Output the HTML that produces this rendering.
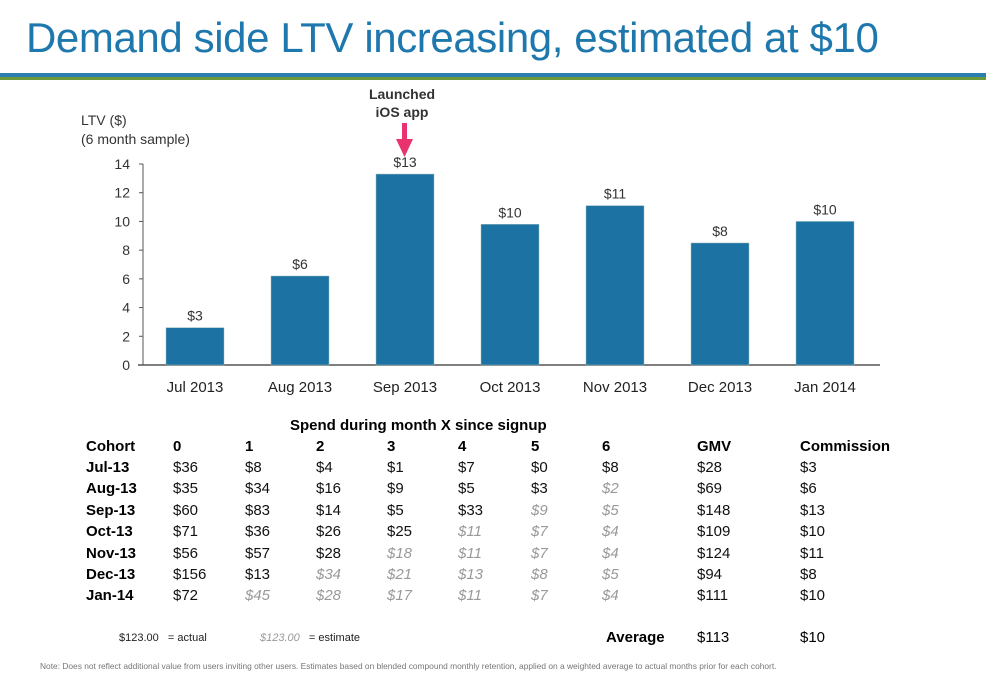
<!DOCTYPE html>
<html><head><meta charset="utf-8">
<style>
body{margin:0;width:986px;height:679px;background:#fff;font-family:"Liberation Sans",sans-serif;position:relative;overflow:hidden}
.t{position:absolute;white-space:nowrap}
</style></head><body>
<div class="t" style="left:26px;top:14px;font-size:42px;color:#1e78ad;letter-spacing:-0.4px">Demand side LTV increasing, estimated at $10</div>
<div style="position:absolute;left:0;top:73px;width:986px;height:4px;background:#2a7fb0"></div>
<div style="position:absolute;left:0;top:77px;width:986px;height:3px;background:#6a9a3a"></div>
<svg id="chart" width="986" height="410" style="position:absolute;left:0;top:0">
<text x="81" y="125" font-size="14" fill="#333">LTV ($)</text>
<text x="81" y="144" font-size="14" fill="#333">(6 month sample)</text>
<text x="402" y="99" font-size="14" font-weight="bold" fill="#333" text-anchor="middle">Launched</text>
<text x="402" y="117" font-size="14" font-weight="bold" fill="#333" text-anchor="middle">iOS app</text>
<g><rect x="402" y="123" width="5" height="17" fill="#e8336f"/><polygon points="396,139 413,139 404.5,157" fill="#e8336f"/></g>
</svg>
<script>
const categories=["Jul 2013","Aug 2013","Sep 2013","Oct 2013","Nov 2013","Dec 2013","Jan 2014"];
const ltvValues=[2.6,6.2,13.3,9.8,11.1,8.5,10.0];
const barLabels=["$3","$6","$13","$10","$11","$8","$10"];
const yTicks=[0,2,4,6,8,10,12,14];
const svg=document.getElementById('chart');const NS='http://www.w3.org/2000/svg';
const y=v=>365-v*201/14, x=i=>195+i*105;
function mk(t,a){const e=document.createElementNS(NS,t);for(const k in a)e.setAttribute(k,a[k]);svg.appendChild(e);return e;}
let ax=mk('line',{x1:143,y1:y(14),x2:143,y2:365,stroke:'#555','stroke-width':1});


let bx=mk('line',{x1:138,y1:365,x2:880,y2:365,stroke:'#555','stroke-width':1.5});


yTicks.forEach(v=>{mk('line',{x1:139,x2:143,y1:y(v),y2:y(v),stroke:'#555'});
const t=mk('text',{x:130,y:y(v)+5,'font-size':14,fill:'#333','text-anchor':'end'});t.textContent=v;

});
categories.forEach((c,i)=>{const v=ltvValues[i];
const r=mk('rect',{x:x(i)-29,y:y(v),width:58,height:365-y(v),fill:'#1c73a3',stroke:'#9bb',"stroke-width":0.5});


const l=mk('text',{x:x(i),y:y(v)-7,'font-size':14,fill:'#333','text-anchor':'middle'});l.textContent=barLabels[i];


const xl=mk('text',{x:x(i),y:392,'font-size':15,fill:'#222','text-anchor':'middle'});xl.textContent=c;

});
</script>
<div class="t" style="left:290px;top:417px;font-size:15px;font-weight:bold;color:#000">Spend during month X since signup</div>
<div id="tbl"></div>
<script>
const cols=[86,173,245,316,387,458,531,602,697,800];
const header=["Cohort","0","1","2","3","4","5","6","GMV","Commission"];
const rows=[
["Jul-13","$36","$8","$4","$1","$7","$0","$8","$28","$3"],
["Aug-13","$35","$34","$16","$9","$5","$3","*$2","$69","$6"],
["Sep-13","$60","$83","$14","$5","$33","*$9","*$5","$148","$13"],
["Oct-13","$71","$36","$26","$25","*$11","*$7","*$4","$109","$10"],
["Nov-13","$56","$57","$28","*$18","*$11","*$7","*$4","$124","$11"],
["Dec-13","$156","$13","*$34","*$21","*$13","*$8","*$5","$94","$8"],
["Jan-14","$72","*$45","*$28","*$17","*$11","*$7","*$4","$111","$10"]];
const tbl=document.getElementById('tbl');
function cell(txt,l,t,s){const d=document.createElement('div');d.className='t';
let est=txt[0]==='*';if(est){txt=txt.slice(1);s+='color:#999;font-style:italic;';}
d.style.cssText=`left:${l}px;top:${t}px;font-size:15px;`+s;d.textContent=txt;tbl.appendChild(d);return d;}
header.forEach((h,i)=>{const d=cell(h,cols[i],438,'font-weight:bold;color:#000;');

});
rows.forEach((r,ri)=>r.forEach((v,ci)=>{const d=cell(v,cols[ci],459+ri*21.4,ci===0?'font-weight:bold;color:#000;':'color:#111;');

}));
</script>
<div class="t" style="left:119px;top:632px;font-size:11px;color:#222">$123.00 &nbsp;&nbsp;= actual</div>
<div class="t" style="left:260px;top:632px;font-size:11px;color:#222"><i style="color:#999">$123.00</i> &nbsp;&nbsp;= estimate</div>
<div class="t" style="left:606px;top:629px;font-size:15px;font-weight:bold">Average</div>
<div class="t" style="left:697px;top:629px;font-size:15px">$113</div>
<div class="t" style="left:800px;top:629px;font-size:15px">$10</div>
<div class="t" style="left:40px;top:661px;font-size:8.4px;color:#777">Note: Does not reflect additional value from users inviting other users.  Estimates based on blended compound monthly retention, applied on a weighted average to actual months prior for each cohort.</div>
</body></html>
